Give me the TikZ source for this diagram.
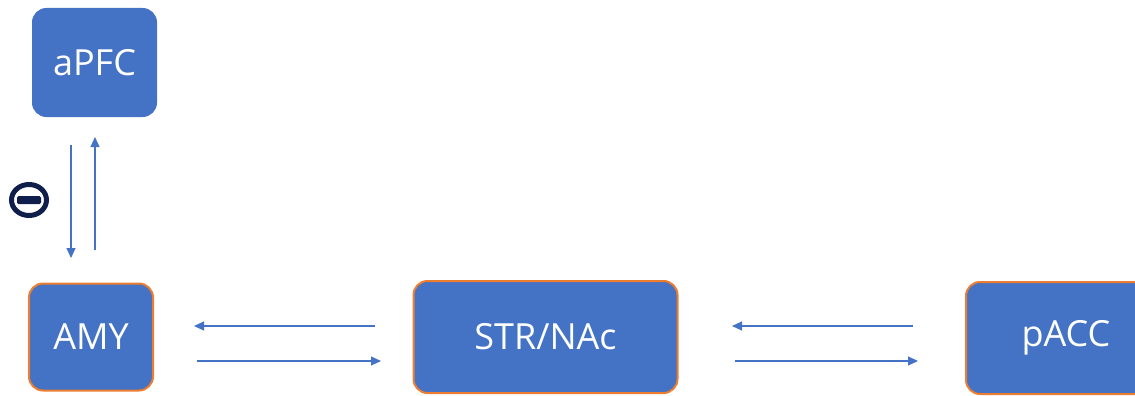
\documentclass[tikz,border=0pt]{standalone}
\usepackage{fontspec}
\setmainfont{Open Sans}
\usetikzlibrary{arrows.meta,shapes.geometric}
\definecolor{boxblue}{HTML}{4472C4}
\definecolor{boxorange}{HTML}{ED7D31}
\definecolor{linkblue}{HTML}{4472C4}
\definecolor{inhib}{HTML}{0F1E4A}
\begin{document}
\begin{tikzpicture}[x=1pt,y=-1pt,
  region/.style={fill=boxblue, rounded corners=14pt, inner sep=0pt,
    text=white, font=\fontsize{36}{40}\selectfont},
  marked/.style={region, draw=boxorange, line width=2pt},
  plain/.style={region, draw=boxblue, line width=1pt},
  link/.style={draw=linkblue, line width=1.1pt, -{Triangle[length=10pt,width=9pt]}}]
\useasboundingbox (0,0) rectangle (1135,396);
% brain regions
\node[plain, minimum width=124pt, minimum height=108pt] (apfc) at (94.5,62.5) {aPFC};
\node[marked, minimum width=124pt, minimum height=107pt] (amy) at (91,337) {AMY};
\node[marked, minimum width=264pt, minimum height=112pt] (str) at (545.5,337) {STR/NAc};
\node[marked, minimum width=200pt, minimum height=112pt] (pacc) at (1066,338) {pACC};
% anchor points for the connectors
\coordinate (d1) at (71,145);  \coordinate (d2) at (71,258);
\coordinate (u1) at (95,250);  \coordinate (u2) at (95,137);
\coordinate (a1) at (375,326); \coordinate (a2) at (194,326);
\coordinate (b1) at (197,361); \coordinate (b2) at (381,361);
\coordinate (c1) at (913,326); \coordinate (c2) at (732,326);
\coordinate (e1) at (735,361); \coordinate (e2) at (918,361);
\draw[link] (d1) -- (d2);
\draw[link] (u1) -- (u2);
\draw[link] (a1) -- (a2);
\draw[link] (b1) -- (b2);
\draw[link] (c1) -- (c2);
\draw[link] (e1) -- (e2);
% inhibition mark
\node[ellipse, draw=inhib, line width=5pt, minimum width=35pt, minimum height=31pt, inner sep=0pt] (minus) at (29,200) {};
\fill[inhib, rounded corners=1.5pt] ([xshift=-12pt,yshift=-4pt]minus.center) rectangle ([xshift=12pt,yshift=4pt]minus.center);
\end{tikzpicture}
\end{document}
